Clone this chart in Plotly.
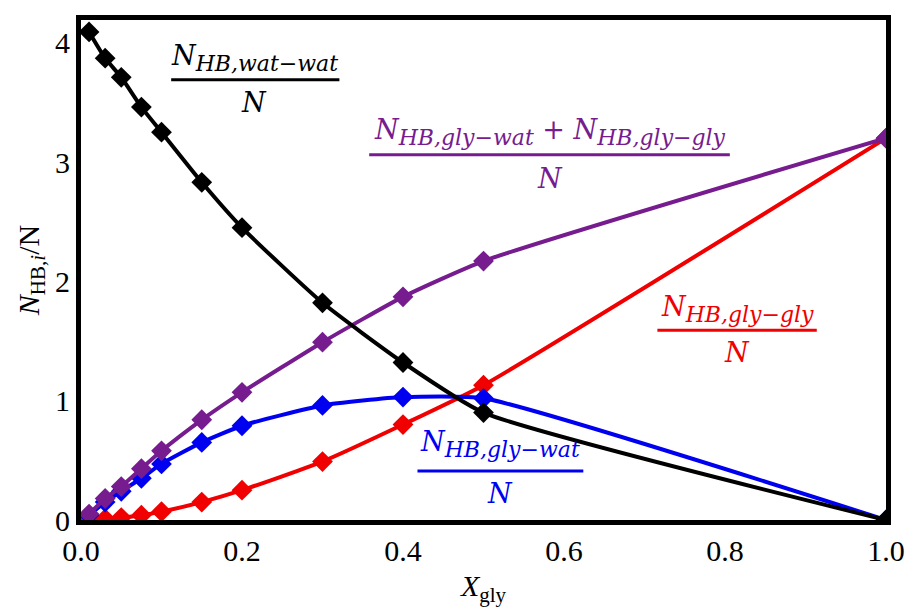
import plotly.graph_objects as go

x_gly = [0.01, 0.03, 0.05, 0.075, 0.1, 0.15, 0.2, 0.3, 0.4, 0.5, 1.0]
wat_wat = [4.09, 3.87, 3.71, 3.46, 3.25, 2.83, 2.45, 1.82, 1.32, 0.90, 0.0]
gly_wat = [0.04, 0.15, 0.24, 0.35, 0.47, 0.65, 0.79, 0.96, 1.03, 1.02, 0.0]
gly_gly = [0.0, 0.01, 0.02, 0.04, 0.07, 0.15, 0.25, 0.49, 0.80, 1.13, 3.2]
gly_total = [0.05, 0.18, 0.28, 0.43, 0.58, 0.84, 1.07, 1.49, 1.87, 2.17, 3.2]

BLACK = "#000000"
BLUE = "#0000F0"
RED = "#F00000"
PURPLE = "#761C8E"

fig = go.Figure()

def add(y, color, x=x_gly):
    fig.add_trace(go.Scatter(
        x=x, y=y, mode="lines+markers",
        line=dict(color=color, width=4, shape="spline", smoothing=0.5),
        marker=dict(symbol="diamond", size=16, color=color),
        showlegend=False, cliponaxis=True))

add(gly_gly, RED)
add(gly_wat, BLUE)
add(gly_total, PURPLE)
add(wat_wat, BLACK)

FONT = "DejaVu Serif"

def sub(s):
    return "<sub><span style='font-size:22px'><i>%s</i></span></sub>" % s

labels = [
    # (numerator, color, center x, num y, bar y, bar x0, bar x1, den y)
    ("<i>N</i>" + sub("HB,wat−wat"), BLACK, 0.215, 3.87, 3.69, 0.112, 0.321, 3.50),
    ("<i>N</i>" + sub("HB,gly−wat") + " + <i>N</i>" + sub("HB,gly−gly"), PURPLE, 0.582, 3.25, 3.06, 0.358, 0.806, 2.86),
    ("<i>N</i>" + sub("HB,gly−gly"), RED, 0.815, 1.77, 1.59, 0.716, 0.914, 1.40),
    ("<i>N</i>" + sub("HB,gly−wat"), BLUE, 0.52, 0.64, 0.41, 0.418, 0.624, 0.22),
]
for num, col, cx, ny, by, x0, x1, dy in labels:
    fig.add_annotation(x=cx, y=ny, xref="x", yref="y", text=num, showarrow=False,
                       font=dict(family=FONT, size=27, color=col))
    fig.add_annotation(x=cx, y=dy, xref="x", yref="y", text="<i>N</i>", showarrow=False,
                       font=dict(family=FONT, size=27, color=col))
    fig.add_shape(type="line", xref="x", yref="y", x0=x0, x1=x1, y0=by, y1=by,
                  line=dict(color=col, width=3))

fig.update_layout(
    width=917, height=610,
    margin=dict(l=81, r=24, t=20, b=89),
    plot_bgcolor="white", paper_bgcolor="white",
    font=dict(family="Liberation Serif", size=30, color="black"),
)
fig.update_xaxes(range=[0, 1], tickvals=[0, 0.2, 0.4, 0.6, 0.8, 1.0],
                 ticktext=["0.0", "0.2", "0.4", "0.6", "0.8", "1.0"],
                 tickfont=dict(family="Liberation Serif", size=30),
                 showgrid=False, zeroline=False, showline=True, linewidth=5,
                 linecolor="black", mirror=True, ticks="",
                 title=dict(text="<i>X</i><sub>gly</sub>", standoff=10,
                            font=dict(family="Liberation Serif", size=30)))
fig.update_yaxes(range=[0, 4.19], tickvals=[0, 1, 2, 3, 4],
                 tickfont=dict(family="Liberation Serif", size=30),
                 showgrid=False, zeroline=False, showline=True, linewidth=5,
                 linecolor="black", mirror=True, ticks="",
                 title=dict(text="<i>N</i><sub>HB,<i>i</i></sub>/N", standoff=8,
                            font=dict(family="Liberation Serif", size=30)))

fig.write_html("out.html")
